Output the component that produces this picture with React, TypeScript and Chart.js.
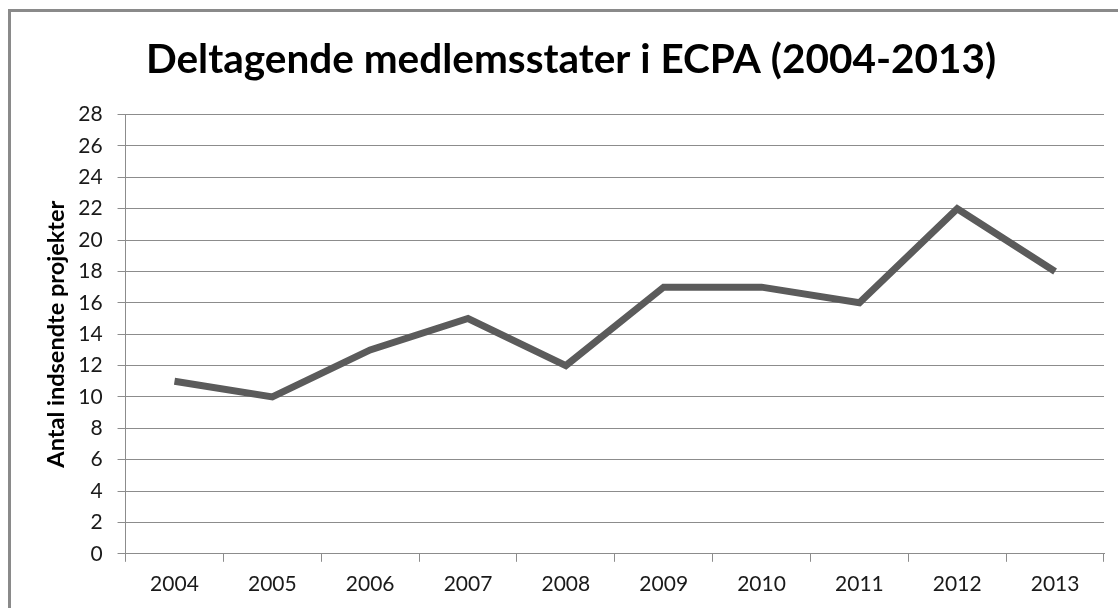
import React, { useEffect, useRef } from "react";
import { Chart, registerables } from "chart.js";

Chart.register(...registerables);

const years = ["2004", "2005", "2006", "2007", "2008", "2009", "2010", "2011", "2012", "2013"];
const projects = [11, 10, 13, 15, 12, 17, 17, 16, 22, 18];
const chartTitle = "Deltagende medlemsstater i ECPA (2004-2013)";
const yAxisTitle = "Antal indsendte projekter";
const yMin = 0;
const yMax = 28;
const yStep = 2;

const FONT = "Lato, 'Open Sans', sans-serif";

export default function App() {
  const ref = useRef<HTMLCanvasElement | null>(null);

  useEffect(() => {
    if (!ref.current) return;
    const chart = new Chart(ref.current, {
      type: "line",
      data: {
        labels: years,
        datasets: [
          {
            data: projects,
            borderColor: "#5b5b5b",
            borderWidth: 7,
            pointRadius: 0,
            pointHoverRadius: 0,
            tension: 0,
            borderJoinStyle: "miter",
            borderCapStyle: "butt",
            fill: false,
          },
        ],
      },
      options: {
        animation: false,
        responsive: false,
        maintainAspectRatio: false,
        layout: { padding: { top: 36, left: 38, right: 14, bottom: 12 } },
        plugins: {
          legend: { display: false },
          tooltip: { enabled: false },
          title: {
            display: true,
            text: chartTitle,
            color: "#000",
            font: { family: FONT, size: 40.5, weight: "bold" },
            padding: { top: 0, bottom: 30 },
          },
        },
        scales: {
          x: {
            offset: true,
            grid: {
              offset: true,
              drawOnChartArea: false,
              drawTicks: true,
              tickLength: 8,
              color: "#8c8c8c",
            },
            border: { display: true, color: "#8c8c8c", width: 1 },
            ticks: {
              color: "#1a1a1a",
              font: { family: FONT, size: 21 },
              padding: 10,
              maxRotation: 0,
            },
          },
          y: {
            min: yMin,
            max: yMax,
            grid: {
              color: "#8c8c8c",
              tickLength: 8,
              drawTicks: true,
            },
            border: { display: true, color: "#8c8c8c", width: 1 },
            ticks: {
              stepSize: yStep,
              color: "#1a1a1a",
              font: { family: FONT, size: 21 },
              padding: 15,
            },
            title: {
              display: true,
              text: yAxisTitle,
              color: "#000",
              font: { family: FONT, size: 23.5, weight: "bold" },
              padding: { top: 4, bottom: -7 },
            },
          },
        },
      },
    });
    return () => chart.destroy();
  }, []);

  return (
    <div style={{ position: "fixed", left: 0, top: 0, width: 1118, height: 608, overflow: "hidden", background: "#fff" }}>
      <div
        style={{
          position: "absolute",
          left: 8,
          top: 9,
          width: 1300,
          height: 800,
          border: "3px solid #8a8a8a",
          boxSizing: "border-box",
        }}
      />
      <canvas ref={ref} width={1118} height={619} style={{ position: "absolute", left: 0, top: 0 }} />
    </div>
  );
}
